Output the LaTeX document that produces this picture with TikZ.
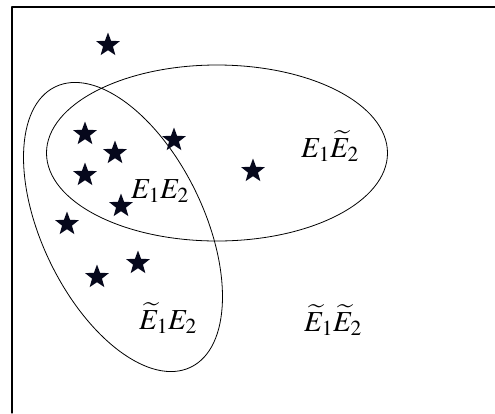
\documentclass[tikz,border=0pt]{standalone}
\usepackage{mathptmx}
\usetikzlibrary{shapes.geometric}
\definecolor{stardark}{RGB}{6,8,28}
\begin{document}
\begin{tikzpicture}[x=1pt,y=-1pt,font=\fontsize{29}{34}\selectfont,line join=round,line cap=round]
	\useasboundingbox (0,0) rectangle (495,413);
	% Khung
	\draw[line width=1.2pt] (12,413) -- (12,7) -- (495,7);
	% Hai elip
	\draw[line width=0.8pt] (217,153) ellipse [x radius=170.5, y radius=88];
	\draw[line width=0.8pt,rotate around={-64.2:(123,227)}] (123,227) ellipse [x radius=155.7, y radius=80.9];
	% Cac ngoi sao
	\foreach \x/\y/\n in {108/45/1,85/134/2,115/153/3,85/175/4,174/140/5,253/171/6,121/206/7,67/224/8,138/263/9,97/277/10}
	\node[star,star points=5,star point ratio=2.4,fill=stardark,inner sep=0pt,minimum size=25pt] (s\n) at (\x,\y) {};
	% Nhan
	\node (A) at (160,191) {$E_1E_2$};
	\node (B) at (330,146) {$E_1\widetilde{E}_2$};
	\node (C) at (168,318) {$\widetilde{E}_1E_2$};
	\node (D) at (333,320) {$\widetilde{E}_1\widetilde{E}_2$};
\end{tikzpicture}
\end{document}
